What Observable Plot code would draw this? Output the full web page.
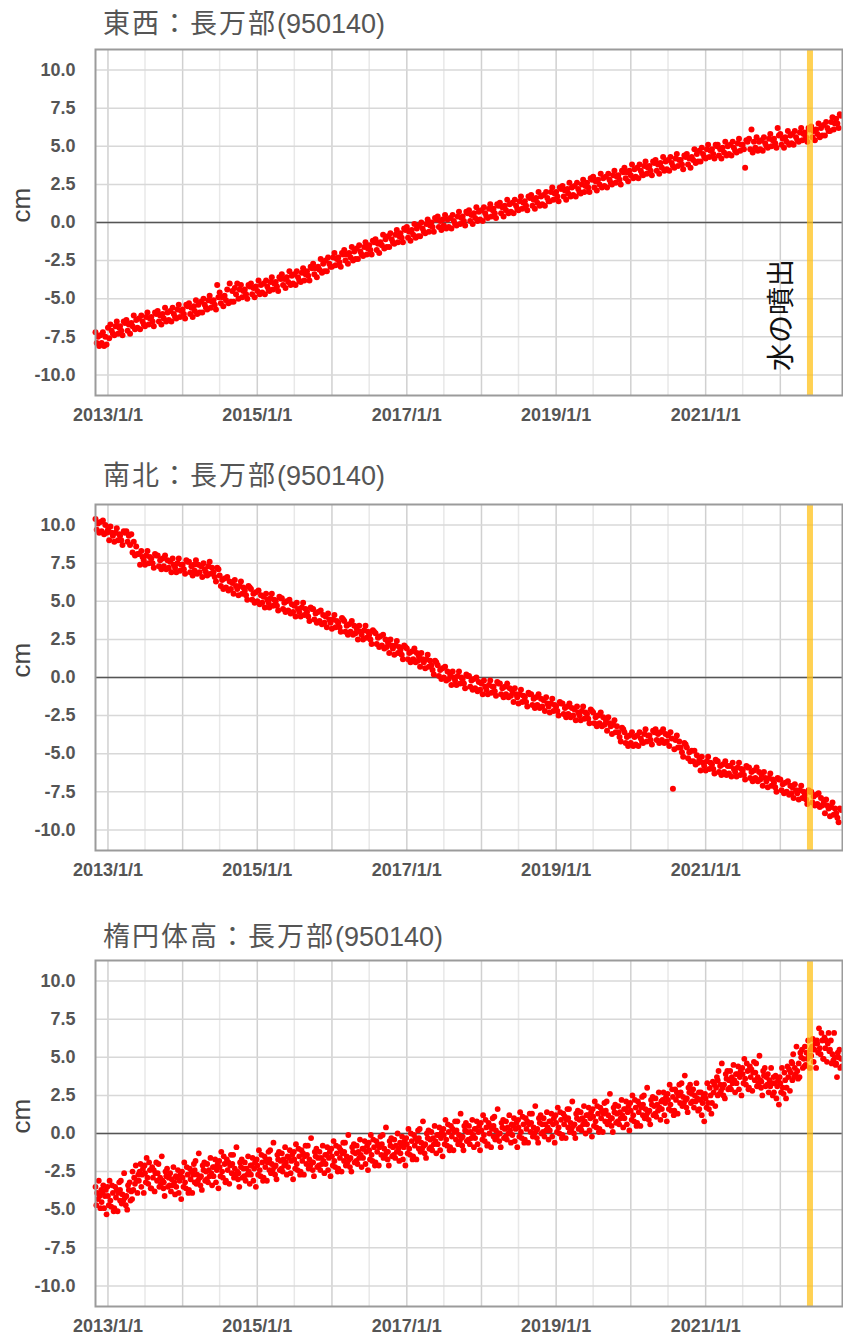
<!DOCTYPE html>
<html>
<head>
<meta charset="utf-8">
<script src="https://cdn.jsdelivr.net/npm/d3@7"></script>
<script src="https://cdn.jsdelivr.net/npm/@observablehq/plot@0.6"></script>
<style>
  body { margin: 0; background: #fff; }
  #wrap { position: relative; width: 843px; height: 1338px; overflow: hidden; background: #fff; }
  .title { position: absolute; left: 103px; font-family: "Liberation Sans", Arial, "Noto Sans CJK JP", sans-serif; font-size: 27px; line-height: 34px; color: #555; white-space: nowrap; }
  .title .cjk { letter-spacing: 2px; font-family: "Noto Sans CJK JP", sans-serif; }
  .panel { position: absolute; left: 0; }
</style>
</head>
<body>
<div id="wrap"></div>
<script>
// ---- texts ----
const titleCJK = ["東西：長万部", "南北：長万部", "楕円体高：長万部"];
const titleCode = "(950140)";
const yAxisLabel = "cm";
const eventLabel = "水の噴出";

// ---- ticks ----
const xTickYears = [2013, 2015, 2017, 2019, 2021];
const xTickLabels = ["2013/1/1", "2015/1/1", "2017/1/1", "2019/1/1", "2021/1/1"];
const yTickValues = [-10, -7.5, -5, -2.5, 0, 2.5, 5, 7.5, 10];
const yTickLabels = ["-10.0", "-7.5", "-5.0", "-2.5", "0.0", "2.5", "5.0", "7.5", "10.0"];
const gridYears = [2013, 2014, 2015, 2016, 2017, 2018, 2019, 2020, 2021, 2022];
const eventDate = "2022-05-26";

// ---- data: monthly blocks from 2012-11; EW / NS: 5 readings per month (days 1,7,13,19,25) ----
const ewValues = [
-7.2,-7.9,-7.5,-8.1,-7.4, -7.9,-7.2,-8.1,-7.5,-8.0,
-6.9,-7.6,-6.7,-7.1,-7.3, -7.4,-6.8,-6.5,-7.3,-6.9, -6.8,-7.1,-7.4,-6.5,-6.6, -6.4,-7.1,-6.7,-7.3,-6.6, -6.8,-6.1,-7.0,-6.4,-6.9, -6.3,-7.0,-6.1,-6.5,-6.7,
-6.8,-6.2,-5.9,-6.7,-6.3, -6.2,-6.5,-6.8,-5.9,-6.0, -5.8,-6.5,-6.1,-6.7,-6.0, -6.3,-5.6,-6.5,-5.9,-6.4, -5.8,-6.5,-5.6,-6.0,-6.2, -6.3,-5.7,-5.4,-6.2,-5.8,
-5.7,-6.0,-6.3,-5.4,-5.5, -5.3,-6.0,-5.6,-6.2,-5.5, -5.8,-5.1,-6.0,-5.4,-5.9, -5.2,-5.9,-5.0,-5.4,-5.6, -5.7,-5.1,-4.8,-5.6,-5.2, -5.1,-5.4,-5.7,-4.1,-4.9,
-4.6,-5.3,-4.9,-5.5,-4.8, -5.1,-4.4,-5.3,-4.0,-5.2, -4.5,-5.2,-4.3,-4.7,-4.0, -5.0,-4.4,-4.1,-4.9,-4.5, -4.4,-4.7,-5.0,-4.1,-4.2, -4.0,-4.7,-4.3,-4.9,-4.2,
-4.5,-3.8,-4.7,-4.1,-4.6, -4.0,-4.7,-3.8,-4.2,-4.4, -4.5,-3.9,-3.6,-4.4,-4.0, -3.9,-4.2,-4.5,-3.6,-3.7, -3.4,-4.1,-3.7,-4.3,-3.6, -3.9,-3.2,-4.1,-3.5,-4.0,
-3.4,-4.1,-3.2,-3.6,-3.8, -3.9,-3.3,-3.0,-3.8,-3.4, -3.2,-3.5,-3.8,-2.9,-3.0, -2.7,-3.4,-3.0,-3.6,-2.9, -3.1,-2.4,-3.3,-2.7,-3.2, -2.5,-3.2,-2.3,-2.7,-2.9,
-2.9,-2.3,-2.0,-2.8,-2.4, -2.3,-2.6,-2.9,-2.0,-2.1, -1.8,-2.5,-2.1,-2.7,-2.0, -2.3,-1.6,-2.5,-1.9,-2.4, -1.7,-2.4,-1.5,-1.9,-2.1, -2.2,-1.6,-1.3,-2.1,-1.7,
-1.5,-1.8,-2.1,-1.2,-1.3, -1.1,-1.8,-1.4,-2.0,-1.3, -1.5,-0.8,-1.7,-1.1,-1.6, -0.9,-1.6,-0.7,-1.1,-1.3, -1.4,-0.8,-0.5,-1.3,-0.9, -0.7,-1.0,-1.3,-0.4,-0.5,
-0.3,-1.0,-0.6,-1.2,-0.5, -0.8,-0.1,-1.0,-0.4,-0.9, -0.2,-0.9,0.0,-0.4,-0.6, -0.7,-0.1,0.2,-0.6,-0.2, 0.0,-0.3,-0.6,0.3,0.2, 0.4,-0.3,0.1,-0.5,0.2,
-0.2,0.5,-0.4,0.2,-0.3, 0.3,-0.4,0.5,0.1,-0.1, -0.2,0.4,0.7,-0.1,0.3, 0.4,0.1,-0.2,0.7,0.6, 0.8,0.1,0.5,-0.1,0.6, 0.3,1.0,0.1,0.7,0.2,
0.8,0.1,1.0,0.6,0.4, 0.3,0.9,1.2,0.4,0.8, 0.9,0.6,0.3,1.2,1.1, 1.3,0.6,1.0,0.4,1.1, 0.8,1.5,0.6,1.2,0.7, 1.3,0.6,1.5,1.1,0.9,
0.8,1.4,1.7,0.9,1.3, 1.4,1.1,0.8,1.7,1.6, 1.8,1.1,1.5,0.9,1.6, 1.3,2.0,1.1,1.7,1.2, 1.8,1.1,2.0,1.6,1.4, 1.4,2.0,2.3,1.5,1.9,
2.0,1.7,1.4,2.3,2.2, 2.4,1.7,2.1,1.5,2.2, 1.9,2.6,1.7,2.3,1.8, 2.4,1.7,2.6,2.2,2.0, 1.9,2.5,2.8,2.0,2.4, 2.6,2.3,2.0,2.9,2.8,
3.0,2.3,2.7,2.1,2.8, 2.5,3.2,2.3,2.9,2.4, 3.0,2.3,3.2,2.8,2.6, 2.5,3.1,3.4,2.6,3.0, 3.1,2.8,2.5,3.4,3.3, 3.6,2.9,3.3,2.7,3.4,
3.1,3.8,2.9,3.5,3.0, 3.6,2.9,3.8,3.4,3.2, 3.1,3.7,4.0,3.2,3.6, 3.7,3.4,3.1,4.0,3.9, 4.1,3.4,3.8,3.2,3.9, 3.6,4.3,3.4,4.0,3.5,
4.1,3.4,4.3,3.9,3.7, 3.6,4.2,4.5,3.7,4.1, 4.1,3.8,3.5,4.4,4.3, 4.5,3.8,4.2,3.6,4.3, 4.1,4.8,3.9,4.5,4.0, 4.7,4.0,4.9,4.5,4.3,
4.2,4.8,5.1,4.3,4.7, 4.8,4.5,4.2,5.1,5.0, 5.1,4.4,4.8,4.2,4.9, 4.6,5.3,4.4,5.0,4.5, 5.1,4.4,5.3,4.9,4.7, 4.6,5.2,5.5,4.7,5.1,
5.1,4.8,3.6,5.4,5.3, 5.5,4.8,6.1,4.6,5.3, 4.9,5.6,4.7,5.3,4.8, 5.4,4.7,5.6,5.2,5.0, 4.9,5.5,5.8,5.0,5.4, 5.5,5.2,4.9,6.2,5.7,
5.8,5.1,5.5,4.9,5.6, 5.3,6.0,5.1,5.7,5.2, 5.8,5.1,6.0,5.6,5.4, 5.3,5.9,6.2,5.4,5.8, 5.9,5.6,5.3,6.2,6.1, 6.3,5.6,6.0,5.4,6.1,
5.8,6.5,5.6,6.2,5.7, 6.4,5.7,6.6,6.2,6.0, 6.0,6.6,6.9,6.1,6.5, 6.8,6.5,6.2,7.1,7.0
];
const nsValues = [
10.4,9.7,10.1,9.5,10.2, 9.6,10.3,9.4,10.0,9.5,
9.7,9.0,9.9,9.5,9.3, 8.9,9.5,9.8,9.0,9.4, 9.3,9.0,8.7,9.6,9.5, 9.6,8.9,9.3,8.7,9.4, 8.2,8.9,8.0,8.6,8.1, 8.1,7.4,8.3,7.9,7.7,
7.4,8.0,8.3,7.5,7.9, 7.8,7.5,7.2,8.1,8.0, 8.0,7.3,7.7,7.1,7.8, 7.3,8.0,7.1,7.7,7.2, 7.6,6.9,7.8,7.4,7.2, 6.9,7.5,7.8,7.0,7.4,
7.4,7.1,6.8,7.7,7.6, 7.6,6.9,7.3,6.7,7.4, 7.0,7.7,6.8,7.4,6.9, 7.3,6.6,7.5,7.1,6.9, 6.7,7.3,7.6,6.8,7.2, 6.9,6.6,6.3,7.2,7.1,
6.7,6.0,6.4,5.8,6.5, 5.9,6.6,5.7,6.3,5.8, 6.2,5.5,6.4,6.0,5.8, 5.4,6.0,6.3,5.5,5.9, 5.7,5.4,5.1,6.0,5.9, 5.8,5.1,5.5,4.9,5.6,
5.0,5.7,4.8,5.4,4.9, 5.3,4.6,5.5,5.1,4.9, 4.6,5.2,5.5,4.7,5.1, 5.0,4.7,4.4,5.3,5.2, 5.2,4.5,4.9,4.3,5.0, 4.4,5.1,4.2,4.8,4.3,
4.7,4.0,4.9,4.5,4.3, 4.0,4.6,4.9,4.1,4.5, 4.3,4.0,3.7,4.6,4.5, 4.5,3.8,4.2,3.6,4.3, 3.7,4.4,3.5,4.1,3.6, 4.0,3.3,4.2,3.8,3.6,
3.2,3.8,4.1,3.3,3.7, 3.6,3.3,3.0,3.9,3.8, 3.7,3.0,3.4,2.8,3.5, 3.0,3.7,2.8,3.4,2.9, 3.2,2.5,3.4,3.0,2.8, 2.5,3.1,3.4,2.6,3.0,
2.8,2.5,2.2,3.1,3.0, 2.9,2.2,2.6,2.0,2.7, 2.1,2.8,1.9,2.5,2.0, 2.3,1.6,2.5,2.1,1.9, 1.5,2.1,2.4,1.6,2.0, 1.8,1.5,1.2,2.1,2.0,
1.9,1.2,1.6,1.0,1.7, 1.2,1.9,1.0,1.6,1.1, 1.4,0.7,1.6,1.2,1.0, 0.6,1.2,1.5,0.7,1.1, 0.8,0.5,0.2,1.1,1.0, 0.8,0.1,0.5,-0.1,0.6,
0.0,0.7,-0.2,0.4,-0.1, 0.2,-0.5,0.4,0.0,-0.2, -0.5,0.1,0.4,-0.4,0.0, -0.1,-0.4,-0.7,0.2,0.1, 0.1,-0.6,-0.2,-0.8,-0.1, -0.7,0.0,-0.9,-0.3,-0.8,
-0.4,-1.1,-0.2,-0.6,-0.8, -1.1,-0.5,-0.2,-1.0,-0.6, -0.6,-0.9,-1.2,-0.3,-0.4, -0.4,-1.1,-0.7,-1.3,-0.6, -1.1,-0.4,-1.3,-0.7,-1.2, -0.9,-1.6,-0.7,-1.1,-1.3,
-1.7,-1.1,-0.8,-1.6,-1.2, -1.3,-1.6,-1.9,-1.0,-1.1, -1.1,-1.8,-1.4,-2.0,-1.3, -1.8,-1.1,-2.0,-1.4,-1.9, -1.5,-2.2,-1.3,-1.7,-1.9, -2.3,-1.7,-1.4,-2.2,-1.8,
-1.9,-2.2,-2.5,-1.6,-1.7, -1.7,-2.4,-2.0,-2.6,-1.9, -2.4,-1.7,-2.6,-2.0,-2.5, -2.1,-2.8,-1.9,-2.3,-2.5, -2.8,-2.2,-1.9,-2.7,-2.3, -2.4,-2.7,-3.0,-2.1,-2.2,
-2.3,-3.0,-2.6,-3.2,-2.5, -3.0,-2.3,-3.2,-2.6,-3.1, -2.8,-3.5,-2.6,-3.0,-3.2, -3.7,-3.1,-2.8,-3.6,-3.2, -3.6,-3.9,-4.2,-3.3,-3.4, -3.6,-4.3,-3.9,-4.5,-3.8,
-4.3,-3.6,-4.5,-3.9,-4.4, -3.8,-4.5,-3.6,-4.0,-4.2, -4.3,-3.7,-3.4,-4.2,-3.8, -3.8,-4.1,-4.4,-3.5,-3.6, -3.4,-4.1,-3.7,-4.3,-3.6, -4.1,-3.4,-4.3,-3.7,-4.2,
-3.8,-4.5,-3.6,-4.0,-7.3, -4.7,-4.1,-3.8,-4.6,-4.2, -4.6,-4.9,-5.2,-4.3,-4.4, -4.6,-5.3,-4.9,-5.5,-4.8, -5.5,-4.8,-5.7,-5.1,-5.6, -5.4,-6.1,-5.2,-5.6,-5.8,
-6.1,-5.5,-5.2,-6.0,-5.6, -5.7,-6.0,-6.3,-5.4,-5.5, -5.5,-6.2,-5.8,-6.4,-5.7, -6.2,-5.5,-6.4,-5.8,-6.3, -5.8,-6.5,-5.6,-6.0,-6.2, -6.5,-5.9,-5.6,-6.4,-6.0,
-6.1,-6.4,-6.7,-5.8,-5.9, -5.9,-6.6,-6.2,-6.8,-6.1, -6.6,-5.9,-6.8,-6.2,-6.7, -6.4,-7.1,-6.2,-6.6,-6.8, -7.2,-6.6,-6.3,-7.1,-6.7, -6.9,-7.2,-7.5,-6.6,-6.7,
-6.7,-7.4,-7.0,-7.6,-6.9, -7.5,-6.8,-7.7,-7.1,-7.6, -7.2,-7.9,-7.0,-7.4,-7.6, -8.0,-7.4,-7.1,-7.9,-7.5, -7.7,-8.0,-8.3,-7.4,-7.5, -7.5,-8.2,-7.8,-8.4,-7.7,
-8.3,-7.6,-8.5,-7.9,-8.4, -8.2,-8.9,-8.0,-8.4,-8.6, -9.1,-8.5,-8.2,-9.0,-8.6, -8.9,-9.2,-9.5,-8.6,-8.7
];
// ellipsoidal height: 8 readings per month (days 1,5,9,...,29)
const htValues = [
-3.5,-4.7,-3.9,-4.3,-3.1,-4.1,-4.9,-3.7, -4.5,-3.9,-3.4,-4.9,-4.1,-3.7,-5.3,-3.5,
-4.1,-4.7,-3.1,-4.4,-4.8,-3.4,-3.9,-5.1, -4.9,-3.5,-4.2,-3.7,-5.1,-3.9,-3.2,-4.4, -3.7,-3.1,-4.6,-4.0,-4.4,-2.6,-4.2,-4.7, -4.1,-5.0,-3.4,-3.7,-3.2,-4.4,-3.8,-4.3,
-2.5,-3.7,-2.9,-3.3,-2.1,-3.1,-3.9,-2.7, -3.1,-2.5,-2.0,-3.5,-2.7,-2.3,-3.9,-2.1, -2.6,-3.2,-1.6,-2.9,-3.3,-1.9,-2.4,-3.6, -3.6,-2.2,-2.9,-2.4,-3.8,-2.6,-1.9,-3.1,
-2.6,-2.0,-3.5,-2.9,-3.3,-1.5,-3.1,-3.6, -3.2,-4.1,-2.5,-2.8,-2.3,-3.5,-2.9,-3.4, -2.6,-3.8,-3.0,-3.4,-2.2,-3.2,-4.0,-2.8, -3.5,-2.9,-2.4,-3.9,-3.1,-2.7,-4.3,-2.5,
-2.9,-3.5,-1.9,-3.2,-3.6,-2.2,-2.7,-3.9, -3.7,-2.3,-3.0,-2.5,-3.9,-2.7,-2.0,-3.2, -2.4,-1.8,-3.3,-2.7,-3.1,-1.3,-2.9,-3.4, -2.8,-3.7,-2.1,-2.4,-1.9,-3.1,-2.5,-3.0,
-2.0,-3.2,-2.4,-2.8,-1.6,-2.6,-3.4,-2.2, -2.8,-2.2,-1.7,-3.2,-2.4,-2.0,-3.6,-1.8, -2.2,-2.8,-1.2,-2.5,-2.9,-1.5,-2.0,-3.2, -3.1,-1.7,-2.4,-1.9,-3.3,-2.1,-1.4,-2.6,
-2.0,-1.4,-2.9,-2.3,-2.7,-0.9,-2.5,-3.0, -2.6,-3.5,-1.9,-2.2,-1.7,-2.9,-2.3,-2.8, -1.9,-3.1,-2.3,-2.7,-1.5,-2.5,-3.3,-2.1, -2.7,-2.1,-1.6,-3.1,-2.3,-1.9,-3.5,-1.7,
-2.1,-2.7,-1.1,-2.4,-2.8,-1.4,-1.9,-3.1, -2.9,-1.5,-2.2,-1.7,-3.1,-1.9,-1.2,-2.4, -1.7,-1.1,-2.6,-2.0,-2.4,-0.6,-2.2,-2.7, -2.1,-3.0,-1.4,-1.7,-1.2,-2.4,-1.8,-2.3,
-1.3,-2.5,-1.7,-2.1,-0.9,-1.9,-2.7,-1.5, -2.2,-1.6,-1.1,-2.6,-1.8,-1.4,-3.0,-1.2, -1.7,-2.3,-0.7,-2.0,-2.4,-1.0,-1.5,-2.7, -2.5,-1.1,-1.8,-1.3,-2.7,-1.5,-0.8,-2.0,
-1.4,-0.8,-2.3,-1.7,-2.1,-0.3,-1.9,-2.4, -1.9,-2.8,-1.2,-1.5,-1.0,-2.2,-1.6,-2.1, -1.2,-2.4,-1.6,-2.0,-0.8,-1.8,-2.6,-1.4, -2.0,-1.4,-0.9,-2.4,-1.6,-1.2,-2.8,-1.0,
-1.5,-2.1,-0.5,-1.8,-2.2,-0.8,-1.3,-2.5, -2.3,-0.9,-1.6,-1.1,-2.5,-1.3,-0.6,-1.8, -1.2,-0.6,-2.1,-1.5,-1.9,-0.1,-1.7,-2.2, -1.6,-2.5,-0.9,-1.2,-0.7,-1.9,-1.3,-1.8,
-0.8,-2.0,-1.2,-1.6,-0.4,-1.4,-2.2,-1.0, -1.6,-1.0,-0.5,-2.0,-1.2,-0.8,-2.4,-0.6, -1.1,-1.7,-0.1,-1.4,-1.8,-0.4,-0.9,-2.1, -1.9,-0.5,-1.2,-0.7,-2.1,-0.9,-0.2,-1.4,
-0.7,-0.1,-1.6,-1.0,-1.4,0.4,-1.2,-1.7, -1.2,-2.1,-0.5,-0.8,-0.3,-1.5,-0.9,-1.4, -0.4,-1.6,-0.8,-1.2,0.0,-1.0,-1.8,-0.6, -1.3,-0.7,-0.2,-1.7,-0.9,-0.5,-2.1,-0.3,
-0.7,-1.3,0.3,-1.0,-1.4,0.0,-0.5,-1.7, -1.5,-0.1,-0.8,-0.3,-1.7,-0.5,0.2,-1.0, -0.3,0.3,-1.2,-0.6,-1.0,0.8,-0.8,-1.3, -0.7,-1.6,0.0,-0.3,0.2,-1.0,-0.4,-0.9,
0.1,-1.1,-0.3,-0.7,0.5,-0.5,-1.3,-0.1, -0.7,-0.1,0.4,-1.1,-0.3,0.1,-1.5,0.3, -0.1,-0.7,0.9,-0.4,-0.8,0.6,0.1,-1.1, -0.9,0.5,-0.2,0.3,-1.1,0.1,0.8,-0.4,
0.2,0.8,-0.7,-0.1,-0.5,1.3,-0.3,-0.8, -0.2,-1.1,0.5,0.2,0.7,-0.5,0.1,-0.4, 0.5,-0.7,0.1,-0.3,0.9,-0.1,-0.9,0.3, -0.3,0.3,0.8,-0.7,0.1,0.5,-1.1,0.7,
0.2,-0.4,1.2,-0.1,-0.5,0.9,0.4,-0.8, -0.7,0.7,0.0,0.5,-0.9,0.3,1.0,-0.2, 0.5,1.1,-0.4,0.2,-0.2,1.6,0.0,-0.5, 0.0,-0.9,0.7,0.4,0.9,-0.3,0.3,-0.2,
0.8,-0.4,0.4,0.0,1.2,0.2,-0.6,0.6, -0.1,0.5,1.0,-0.5,0.3,0.7,-0.9,0.9, 0.4,-0.2,1.4,0.1,-0.3,1.1,0.6,-0.6, -0.4,1.0,0.3,0.8,-0.6,0.6,1.3,0.1,
0.7,1.3,-0.2,0.4,0.0,1.8,0.2,-0.3, 0.3,-0.6,1.0,0.7,1.2,0.0,0.6,0.1, 1.0,-0.2,0.6,0.2,1.4,0.4,-0.4,0.8, 0.2,0.8,1.3,-0.2,0.6,1.0,-0.6,1.2,
0.7,0.1,1.7,0.4,0.0,1.4,0.9,-0.3, -0.1,1.3,0.6,1.1,-0.3,0.9,1.6,0.4, 1.0,1.6,0.1,0.7,0.3,2.1,0.5,0.0, 0.6,-0.3,1.3,1.0,1.5,0.3,0.9,0.4,
1.4,0.2,1.0,0.6,1.8,0.8,0.0,1.2, 0.6,1.2,1.7,0.2,1.0,1.4,-0.2,1.6, 1.1,0.5,2.1,0.8,0.4,1.8,1.3,0.1, 0.3,1.7,1.0,1.5,0.1,1.3,2.0,0.8,
1.5,2.1,0.6,1.2,0.8,2.6,1.0,0.5, 1.0,0.1,1.7,1.4,1.9,0.7,1.3,0.8, 1.8,0.6,1.4,1.0,2.2,1.2,0.4,1.6, 1.0,1.6,2.1,0.6,1.4,1.8,0.2,2.0,
1.5,0.9,2.5,1.2,0.8,2.2,1.7,0.5, 0.7,2.1,1.4,1.9,0.5,1.7,2.4,1.2, 1.9,2.5,1.0,1.6,1.2,3.0,1.4,0.9, 1.5,0.6,2.2,1.9,2.4,1.2,1.8,1.3,
2.3,1.1,1.9,1.5,2.7,1.7,0.9,2.1, 1.6,2.2,2.7,1.2,2.0,2.4,0.8,2.6, 2.2,1.6,3.2,1.9,1.5,2.9,2.4,1.2, 1.5,2.9,2.2,2.7,1.3,2.5,3.2,2.0,
2.7,3.3,1.8,2.4,2.0,3.8,2.2,1.7, 2.3,1.4,3.0,2.7,3.2,2.0,2.6,2.1, 2.9,1.7,2.5,2.1,3.3,2.3,1.5,2.7, 1.6,2.2,2.7,1.2,2.0,2.4,0.8,2.6,
2.3,1.7,3.3,2.0,1.6,3.0,2.5,1.3, 2.0,3.4,2.7,3.2,1.8,3.0,3.7,2.5, 3.5,4.1,2.6,3.2,2.8,4.6,3.0,2.5, 3.2,2.3,3.9,3.6,4.1,2.9,3.5,3.0,
4.1,2.9,3.7,3.3,4.5,3.5,2.7,3.9, 3.3,3.9,4.4,2.9,3.7,4.1,2.5,4.3, 3.9,3.3,4.9,3.6,3.2,4.6,4.1,2.9, 3.0,4.4,3.7,4.2,2.8,4.0,4.7,3.5,
4.0,4.6,3.1,3.7,3.3,5.1,3.5,3.0, 3.4,2.5,4.1,3.8,4.3,3.1,3.7,3.2, 3.9,2.7,3.5,3.1,4.3,3.3,2.5,3.7, 2.7,3.3,3.8,2.3,3.1,3.5,1.9,3.7,
3.3,2.7,4.3,3.0,2.6,4.0,3.5,2.3, 3.0,4.4,3.7,4.2,2.8,4.0,4.7,3.5, 4.6,5.2,3.7,4.3,3.9,5.7,4.1,3.6, 4.6,3.7,5.3,5.0,5.5,4.3,4.9,4.4,
5.7,4.5,5.3,4.9,6.1,5.1,4.3,5.5, 5.1,5.7,6.2,4.7,5.5,5.9,4.3,6.1, 5.9,5.3,6.9,5.6,5.2,6.6,6.1,4.9, 4.9,6.3,5.6,6.1,4.7,5.9,6.6,5.4,
5.5,6.1,4.6,5.2,4.8,6.6,5.0,4.5, 4.6,3.7,5.3,5.0,5.5,4.3,4.9,4.4
];

// ---- build tables ----
function series(values, perMonth, dayStep) {
  return values.map((v, i) => ({
    date: new Date(Date.UTC(2012, 10 + Math.floor(i / perMonth), 1 + (i % perMonth) * dayStep)),
    value: v
  }));
}
const ewData = series(ewValues, 5, 6);
const nsData = series(nsValues, 5, 6);
const htData = series(htValues, 8, 4);

const utc = (y, m, d) => new Date(Date.UTC(y, m, d));
const xDomain = [utc(2012, 10, 1), utc(2022, 10, 1)];
const yDomain = [-11.35, 11.35];
const yearLines = gridYears.map(y => utc(y, 0, 1));
const halfLines = gridYears.filter(y => y < 2022).map(y => utc(y, 6, 1));
const xTicks = xTickYears.map(y => utc(y, 0, 1));
const eventD = new Date(eventDate + "T00:00:00Z");

function panel(data, r, extra) {
  return Plot.plot({
    width: 843,
    height: 390,
    marginLeft: 95,
    marginRight: 1,
    marginTop: 9,
    marginBottom: 35,
    style: { fontFamily: "'Liberation Sans', Arial, sans-serif", background: "transparent", color: "#555", overflow: "visible" },
    x: { type: "utc", domain: xDomain, label: null },
    y: { domain: yDomain, label: null },
    marks: [
      Plot.ruleX(halfLines, { stroke: "#e8e8e8", strokeWidth: 1.5 }),
      Plot.ruleX(yearLines, { stroke: "#d0d0d0", strokeWidth: 1.5 }),
      Plot.ruleY(yTickValues, { stroke: "#d8d8d8", strokeWidth: 1.5 }),
      Plot.ruleY([0], { stroke: "#555", strokeWidth: 1.5 }),
      Plot.dot(data, { x: "date", y: "value", r, fill: "#ff0000", stroke: null }),
      Plot.ruleX([eventD], { stroke: "#ffc21a", strokeOpacity: 0.75, strokeWidth: 6 }),
      Plot.frame({ stroke: "#9b9b9b", strokeWidth: 2 }),
      Plot.axisX(xTicks, {
        tickSize: 0, tickPadding: 13, fontSize: 18, fontWeight: "bold", fill: "#555", label: null,
        tickFormat: d => xTickLabels[xTickYears.indexOf(d.getUTCFullYear())]
      }),
      Plot.axisY(yTickValues, {
        tickSize: 0, tickPadding: 20, fontSize: 18, fontWeight: "bold", fill: "#555", label: null,
        tickFormat: d => yTickLabels[yTickValues.indexOf(d)]
      }),
      Plot.text([yAxisLabel], { frameAnchor: "left", dx: -74, rotate: -90, fontSize: 26, fill: "#444", fontFamily: "'Liberation Sans', Arial, sans-serif" }),
      ...extra
    ]
  });
}

const wrap = document.getElementById("wrap");
const layout = [
  { data: ewData, r: 3, titleTop: 5, svgTop: 40, extra: [
    Plot.text([{ date: utc(2022, 0, 7), value: -6.07 }], {
      x: "date", y: "value", text: () => eventLabel, rotate: -90, fontSize: 28, fill: "#111",
      fontFamily: "'Noto Sans CJK JP', sans-serif"
    })
  ] },
  { data: nsData, r: 3, titleTop: 457, svgTop: 495, extra: [] },
  { data: htData, r: 2.9, titleTop: 918, svgTop: 951, extra: [] }
];
layout.forEach((p, i) => {
  const t = document.createElement("div");
  t.className = "title";
  t.style.top = p.titleTop + "px";
  const s = document.createElement("span");
  s.className = "cjk";
  s.textContent = titleCJK[i];
  t.appendChild(s);
  t.appendChild(document.createTextNode(titleCode));
  wrap.appendChild(t);
  const holder = document.createElement("div");
  holder.className = "panel";
  holder.style.top = p.svgTop + "px";
  holder.appendChild(panel(p.data, p.r, p.extra));
  wrap.appendChild(holder);
});
</script>
</body>
</html>
